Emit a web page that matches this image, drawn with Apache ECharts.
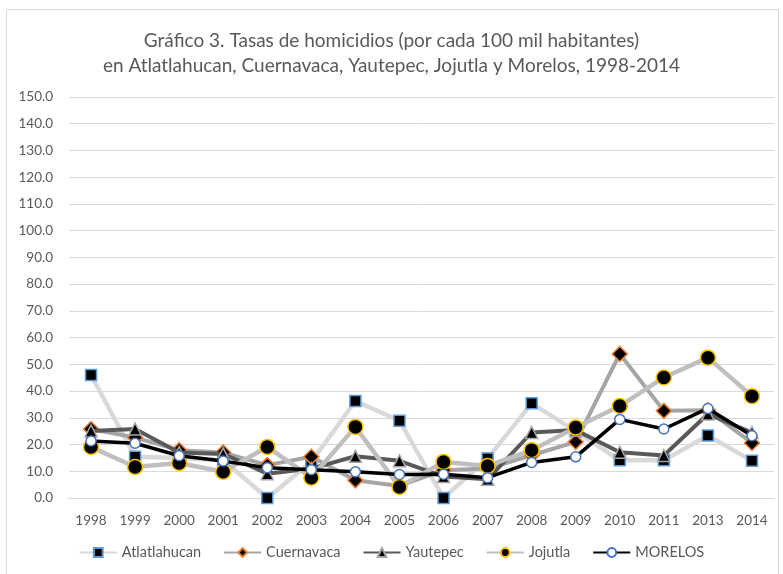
<!DOCTYPE html>
<html>
<head>
<meta charset="utf-8">
<script src="https://cdn.jsdelivr.net/npm/echarts@6/dist/echarts.min.js"></script>
<style>
  html, body { margin: 0; padding: 0; background: #fff; }
  #chart { width: 783px; height: 574px; }
</style>
</head>
<body>
<div id="chart"></div>
<script>
// años (2012 no aparece en el original)
const years = ['1998', '1999', '2000', '2001', '2002', '2003', '2004', '2005', '2006', '2007', '2008', '2009', '2010', '2011', '2013', '2014']
const yTicks = { min: 0, max: 150, interval: 10 }

// tasas por cada 100 mil habitantes
const atlatlahucan = [46.0, 15.4, 15.0, 14.1, 0.0, 13.5, 36.3, 28.9, 0.0, 14.8, 35.4, 25.0, 14.1, 14.1, 23.4, 13.9]
const cuernavaca = [25.8, 22.6, 17.9, 17.0, 12.3, 15.4, 6.6, 4.5, 10.4, 11.0, 16.0, 21.0, 53.9, 32.6, 32.8, 20.6]
const yautepec = [25.1, 25.8, 17.0, 16.5, 9.1, 11.0, 15.6, 13.9, 8.0, 7.0, 24.5, 25.4, 17.1, 15.9, 31.4, 24.5]
const jojutla = [19.1, 11.6, 13.1, 9.8, 19.1, 7.6, 26.6, 4.1, 13.5, 12.0, 17.9, 26.4, 34.4, 45.1, 52.5, 38.1]
const morelos = [21.3, 20.5, 15.8, 13.8, 11.3, 10.6, 9.8, 8.8, 8.9, 7.6, 13.3, 15.4, 29.4, 25.8, 33.5, 23.3]

const font = 'Lato, "Open Sans", sans-serif'
const txt = '#595959'

function serie (name, data, z, lineColor, lineWidth, symbol, size, fill, border, borderWidth) {
  return {
    name: name,
    type: 'line',
    data: data,
    z: z,
    symbol: symbol,
    symbolSize: size,
    showAllSymbol: true,
    lineStyle: { color: lineColor, width: lineWidth },
    itemStyle: { color: fill, borderColor: border, borderWidth: borderWidth },
    color: lineColor,
    emphasis: { disabled: true },
    animation: false
  }
}

const chart = echarts.init(document.getElementById('chart'))
chart.setOption({
  backgroundColor: '#fff',
  animation: false,
  graphic: [{
    type: 'rect',
    shape: { x: 6.5, y: 9.5, width: 772, height: 570 },
    style: { fill: 'none', stroke: '#d9d9d9', lineWidth: 1 },
    z: -1
  }],
  title: {
    text: 'Gráfico 3. Tasas de homicidios (por cada 100 mil habitantes)\nen Atlatlahucan, Cuernavaca, Yautepec, Jojutla y Morelos, 1998-2014',
    left: 'center',
    top: 23,
    textStyle: { fontFamily: font, fontSize: 19, fontWeight: 'normal', color: txt, lineHeight: 25 }
  },
  legend: {
    bottom: 9,
    left: 'center',
    itemWidth: 37,
    itemHeight: 11,
    itemGap: 22,
    textStyle: { fontFamily: font, fontSize: 14.5, color: txt },
    data: ['Atlatlahucan', 'Cuernavaca', 'Yautepec', 'Jojutla', 'MORELOS']
  },
  grid: { left: 69, right: 9, top: 97, bottom: 76, containLabel: false },
  xAxis: {
    type: 'category',
    data: years,
    boundaryGap: true,
    axisLine: { show: true, lineStyle: { color: '#d9d9d9' } },
    axisTick: { show: false },
    axisLabel: { fontFamily: font, fontSize: 13.5, color: txt, margin: 16, interval: 0 }
  },
  yAxis: {
    type: 'value',
    min: yTicks.min,
    max: yTicks.max,
    interval: yTicks.interval,
    axisLine: { show: false },
    axisTick: { show: false },
    splitLine: { lineStyle: { color: '#d9d9d9', width: 1 } },
    axisLabel: { fontFamily: font, fontSize: 13.5, color: txt, margin: 16, formatter: v => v.toFixed(1) }
  },
  series: [
    serie('Atlatlahucan', atlatlahucan, 2, '#d9d9d9', 4.5, 'rect', 11, '#000', '#5b9bd5', 1.5),
    serie('Cuernavaca', cuernavaca, 3, '#a5a5a5', 4, 'diamond', 15, '#000', '#ed7d31', 1.5),
    serie('Yautepec', yautepec, 4, '#595959', 4, 'triangle', 12, '#000', '#a5a5a5', 1.5),
    serie('Jojutla', jojutla, 5, '#bfbfbf', 4.5, 'circle', 15, '#000', '#ffc000', 1.5),
    serie('MORELOS', morelos, 6, '#000000', 3.5, 'circle', 10, '#fff', '#4472c4', 1.5)
  ]
})
</script>
</body>
</html>
